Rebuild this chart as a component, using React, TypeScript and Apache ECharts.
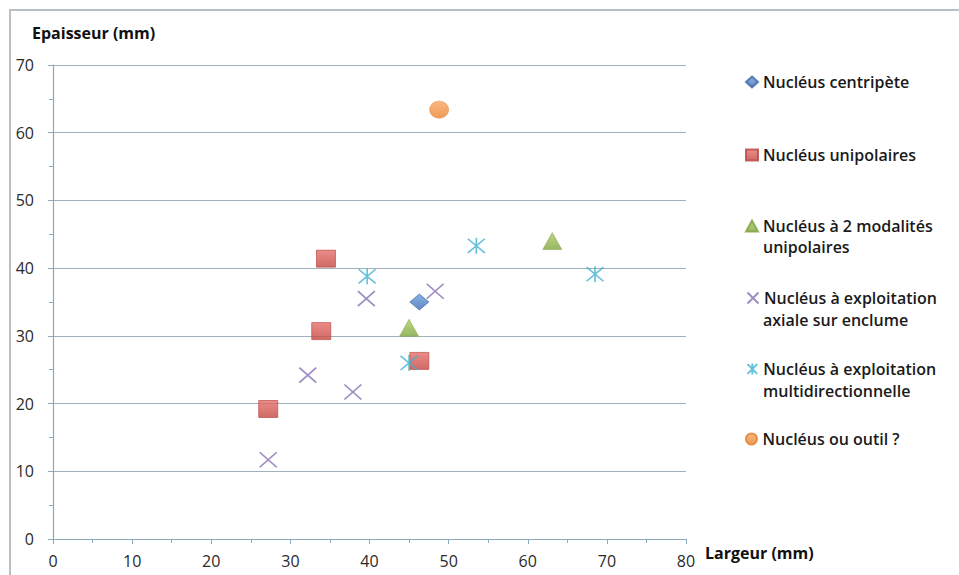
import React, { useEffect, useRef } from "react";
import * as echarts from "echarts";

const seriesNames = [
  "Nucléus centripète",
  "Nucléus unipolaires",
  "Nucléus à 2 modalités unipolaires",
  "Nucléus à exploitation axiale sur enclume",
  "Nucléus à exploitation multidirectionnelle",
  "Nucléus ou outil ?",
];
const legendFirstLines = [
  "Nucléus centripète",
  "Nucléus unipolaires",
  "Nucléus à 2 modalités",
  "Nucléus à exploitation",
  "Nucléus à exploitation",
  "Nucléus ou outil ?",
];
const legendSecondLines = ["", "", "unipolaires", "axiale sur enclume", "multidirectionnelle", ""];

const centripete = [[46.3, 35.0]];
const unipolaires = [
  [27.2, 19.2],
  [34.5, 41.4],
  [33.9, 30.7],
  [46.3, 26.3],
];
const deuxModalites = [
  [45.0, 31.2],
  [63.1, 44.0],
];
const axiale = [
  [27.2, 11.7],
  [32.2, 24.2],
  [37.9, 21.7],
  [39.6, 35.5],
  [48.3, 36.6],
];
const multidirectionnelle = [
  [39.7, 38.8],
  [45.0, 26.0],
  [53.5, 43.3],
  [68.5, 39.1],
];
const outil = [[48.8, 63.4]];

const xTicks = [0, 10, 20, 30, 40, 50, 60, 70, 80];
const yTicks = [0, 10, 20, 30, 40, 50, 60, 70];

const FONT = "'Open Sans', 'Noto Sans', sans-serif";
const LEG_SIZE = 16;

export default function App() {
  const ref = useRef<HTMLDivElement>(null);
  useEffect(() => {
    if (!ref.current) return;
    const chart = echarts.init(ref.current, undefined, { renderer: "svg" });
    const grad = (top: string, bottom: string) =>
      new echarts.graphic.LinearGradient(0, 0, 0, 1, [
        { offset: 0, color: top },
        { offset: 1, color: bottom },
      ]);
    const xPath = "path://M0,0L10,10M10,0L0,10";
    const starPath = "path://M5,0L5,10M0.6,0.6L9.4,9.4M9.4,0.6L0.6,9.4";

    const legendCenters = [82, 155, 226, 298, 369, 439];
    const secondLineCenters = [0, 0, 247, 320, 391, 0];

    const legends = seriesNames.map((n, i) => ({
      data: [n],
      orient: "vertical",
      left: 740,
      top: legendCenters[i] - 5 - 11,
      itemWidth: 12,
      itemHeight: 11,
      selectedMode: false,
      formatter: () => legendFirstLines[i],
      textStyle: { fontFamily: FONT, fontSize: LEG_SIZE, color: "#1a1a1a", fontWeight: 600, lineHeight: 22 },
    }));

    const graphics: any[] = [
      {
        type: "rect",
        shape: { x: 10, y: 10, width: 1000, height: 600 },
        style: { fill: "none", stroke: "#b9c0c5", lineWidth: 2 },
        silent: true,
      },
      {
        type: "text",
        x: 32,
        y: 33,
        style: {
          text: "Epaisseur (mm)",
          fontFamily: FONT,
          fontSize: 16,
          fontWeight: "bold",
          fill: "#111",
          verticalAlign: "middle",
        },
      },
      {
        type: "text",
        x: 705,
        y: 553,
        style: {
          text: "Largeur (mm)",
          fontFamily: FONT,
          fontSize: 16,
          fontWeight: "bold",
          fill: "#111",
          verticalAlign: "middle",
        },
      },
    ];
    legendSecondLines.forEach((t, i) => {
      if (!t) return;
      graphics.push({
        type: "text",
        x: 763,
        y: secondLineCenters[i],
        style: {
          text: t,
          fontFamily: FONT,
          fontSize: LEG_SIZE,
          fontWeight: 600,
          fill: "#1a1a1a",
          verticalAlign: "middle",
        },
      });
    });

    chart.setOption({
      animation: false,
      backgroundColor: "#ffffff",
      grid: { left: 53, right: 273, top: 65, bottom: 36, containLabel: false },
      legend: legends,
      graphic: graphics,
      xAxis: {
        type: "value",
        min: xTicks[0],
        max: xTicks[xTicks.length - 1],
        interval: 10,
        axisLine: { show: true, lineStyle: { color: "#8aaabe", width: 1.2 } },
        axisTick: { show: true, length: 5, lineStyle: { color: "#8aaabe" } },
        minorTick: { show: true, splitNumber: 2, length: 4, lineStyle: { color: "#8aaabe" } },
        splitLine: { show: false },
        axisLabel: { fontFamily: FONT, fontSize: 16, color: "#2a2a2a", margin: 14 },
      },
      yAxis: {
        type: "value",
        min: yTicks[0],
        max: yTicks[yTicks.length - 1],
        interval: 10,
        axisLine: { show: true, lineStyle: { color: "#8aaabe", width: 1.2 } },
        axisTick: { show: true, length: 5, lineStyle: { color: "#8aaabe" } },
        minorTick: { show: true, splitNumber: 2, length: 4, lineStyle: { color: "#8aaabe" } },
        splitLine: { show: true, lineStyle: { color: "#9fb2be", width: 1.2 } },
        axisLabel: { fontFamily: FONT, fontSize: 16, color: "#2a2a2a", margin: 19 },
      },
      series: [
        {
          name: seriesNames[0],
          type: "scatter",
          data: centripete,
          symbol: "diamond",
          symbolSize: [19, 16],
          itemStyle: { color: grad("#6b9be0", "#3c6db0"), borderColor: "#3a66a0", borderWidth: 0.8 },
        },
        {
          name: seriesNames[1],
          type: "scatter",
          data: unipolaires,
          symbol: "rect",
          symbolSize: [19, 17],
          itemStyle: { color: grad("#e46f6a", "#c4453f"), borderColor: "#b9423e", borderWidth: 0.8 },
        },
        {
          name: seriesNames[2],
          type: "scatter",
          data: deuxModalites,
          symbol: "triangle",
          symbolSize: [19, 17],
          itemStyle: { color: grad("#a9cc62", "#7fa43b"), borderColor: "#7fa03f", borderWidth: 0.6 },
        },
        {
          name: seriesNames[3],
          type: "scatter",
          data: axiale,
          symbol: xPath,
          symbolSize: [17, 15],
          itemStyle: { color: "none", borderColor: "#8470b4", borderWidth: 1.6 },
        },
        {
          name: seriesNames[4],
          type: "scatter",
          data: multidirectionnelle,
          symbol: starPath,
          symbolSize: [17, 16],
          itemStyle: { color: "none", borderColor: "#3fb0d0", borderWidth: 1.6 },
        },
        {
          name: seriesNames[5],
          type: "scatter",
          data: outil,
          symbol: "circle",
          symbolSize: [19, 17],
          itemStyle: { color: grad("#f9a55e", "#e8822f"), borderColor: "#e0822e", borderWidth: 0.6 },
        },
      ],
    });
    return () => chart.dispose();
  }, []);
  return <div ref={ref} style={{ width: 959, height: 575, position: "absolute", left: 0, top: 0 }} />;
}
